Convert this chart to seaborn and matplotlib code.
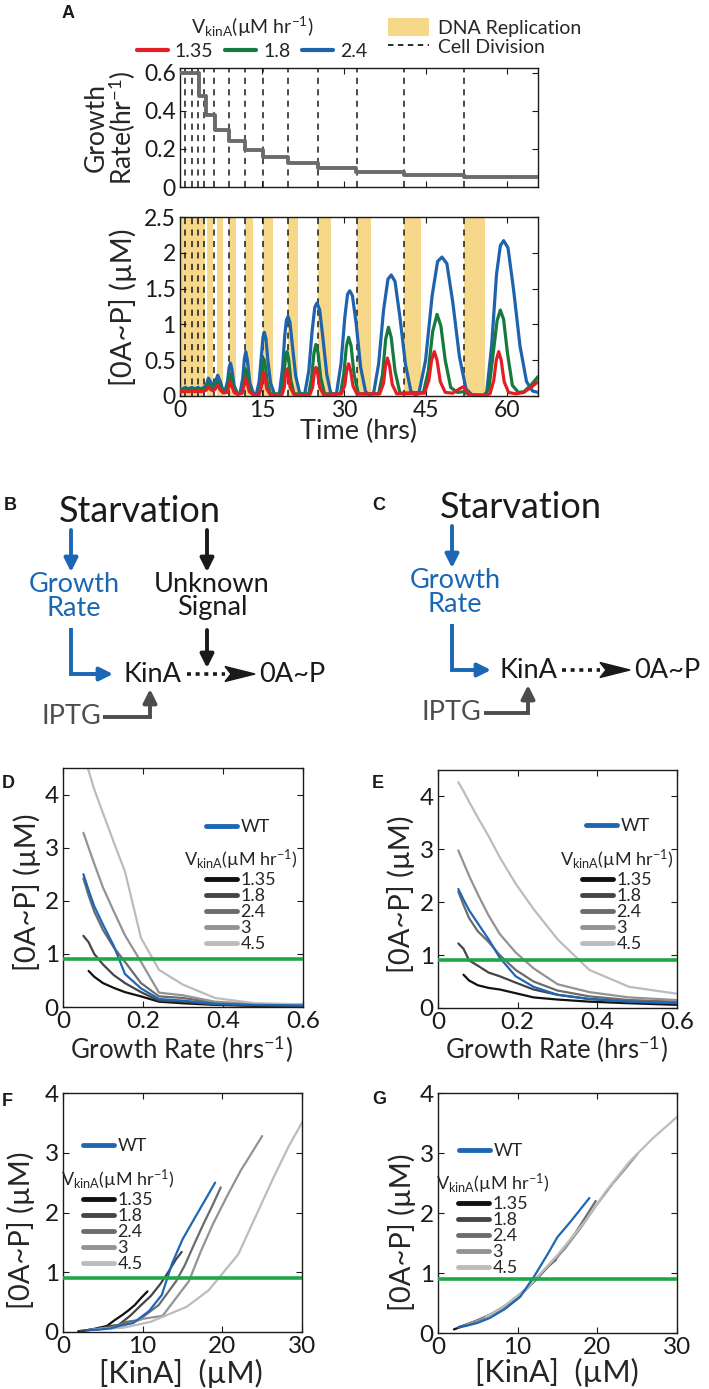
import numpy as np
import matplotlib
matplotlib.use("Agg")
import matplotlib.pyplot as plt
import seaborn as sns
from matplotlib.lines import Line2D
from matplotlib.patches import Patch, Polygon

sns.set_theme(style="ticks")
plt.rcParams["font.family"] = ["Lato", "DejaVu Sans"]
plt.rcParams["mathtext.fontset"] = "custom"
plt.rcParams["mathtext.rm"] = "Lato"
plt.rcParams["mathtext.it"] = "Lato:italic"
plt.rcParams["mathtext.bf"] = "Lato:bold"

# ---------------- panel A data ----------------
gr_t = [0, 3.4, 4.7, 6.4, 9.0, 11.9, 15.3, 19.7, 25.3, 32.3, 41.0, 52.0, 65.6]
gr_v = [0.6, 0.48, 0.38, 0.30, 0.24, 0.195, 0.155, 0.127, 0.10, 0.078, 0.064, 0.051, 0.051]
div_t = [1.0, 2.2, 3.3, 4.4, 6.2, 9.0, 11.9, 15.3, 19.7, 25.3, 32.4, 41.0, 52.0]
rep_start = [0.0, 5.0, 6.7, 9.0, 12.0, 15.3, 19.7, 25.3, 32.4, 41.0, 52.0]
rep_end = [4.6, 6.0, 7.9, 10.3, 13.4, 17.0, 21.7, 27.7, 35.0, 44.2, 55.8]

blue_t = [0, 0.5, 1.0, 1.5, 2.2, 2.7, 3.3, 3.8, 4.4, 4.8, 5.2, 5.6, 6.1, 6.5, 6.9, 7.4, 7.9,
          8.2, 8.7, 9.0, 9.25, 9.5, 9.9, 10.5,
          11.0, 11.5, 11.8, 12.05, 12.35, 12.8, 13.5,
          14.0, 14.5, 14.9, 15.2, 15.45, 15.75, 16.1, 16.6, 17.3, 18.0,
          18.3, 18.8, 19.2, 19.5, 19.8, 20.15, 20.6, 21.2, 21.9, 22.6,
          22.9, 23.6, 24.2, 24.7, 25.1, 25.6, 26.2, 26.9, 27.6, 28.3,
          28.7, 29.5, 30.2, 30.7, 31.1, 31.6, 32.3, 33.1, 34.0, 34.8,
          35.5, 36.4, 37.3, 38.1, 38.7, 39.4, 40.3, 41.3, 42.3, 43.2,
          43.8, 45.0, 46.2, 47.2, 48.0, 48.9, 50.0, 51.2, 52.4, 53.6, 55.6,
          56.2, 57.1, 58.0, 58.7, 59.3, 60.1, 61.1, 62.3, 63.5, 64.6, 65.6]
blue_y = [0.1, 0.1, 0.12, 0.1, 0.12, 0.1, 0.12, 0.1, 0.12, 0.15, 0.25, 0.2, 0.14, 0.2, 0.29, 0.2, 0.07,
          0.06, 0.2, 0.4, 0.46, 0.38, 0.15, 0.04,
          0.04, 0.25, 0.52, 0.62, 0.5, 0.18, 0.03,
          0.03, 0.2, 0.55, 0.82, 0.89, 0.8, 0.5, 0.18, 0.03, 0.01,
          0.08, 0.4, 0.85, 1.06, 1.11, 1.03, 0.7, 0.28, 0.05, 0.01,
          0.05, 0.35, 0.9, 1.24, 1.30, 1.2, 0.8, 0.3, 0.05, 0.01,
          0.05, 0.45, 1.1, 1.42, 1.47, 1.4, 1.0, 0.4, 0.06, 0.01,
          0.05, 0.45, 1.2, 1.63, 1.69, 1.6, 1.1, 0.45, 0.07, 0.01,
          0.05, 0.5, 1.4, 1.88, 1.94, 1.85, 1.3, 0.55, 0.1, 0.01, 0.01,
          0.05, 0.7, 1.7, 2.1, 2.17, 2.07, 1.5, 0.7, 0.2, 0.07, 0.05]

green_t = [0, 0.5, 1.0, 1.5, 2.2, 2.7, 3.3, 3.8, 4.4, 4.8, 5.2, 5.6, 6.1, 6.5, 6.9, 7.4, 8.0,
           8.5, 8.9, 9.2, 9.5, 9.9, 10.6,
           11.3, 11.7, 12.0, 12.3, 12.7, 13.4,
           14.4, 14.8, 15.1, 15.35, 15.65, 16.0, 16.6,
           18.6, 19.0, 19.35, 19.6, 19.9, 20.3, 20.9,
           23.6, 24.1, 24.55, 24.9, 25.3, 25.8, 26.5,
           29.4, 30.0, 30.5, 30.9, 31.35, 31.9, 32.7,
           36.4, 37.1, 37.7, 38.2, 38.7, 39.4, 40.3,
           44.6, 45.5, 46.3, 47.1, 47.8, 48.6, 49.6, 50.8, 52.0, 53.0,
           55.8, 56.6, 57.4, 58.1, 58.7, 59.3, 60.0, 60.9, 62.0, 63.0, 64.3, 65.6]
green_y = [0.09, 0.08, 0.1, 0.08, 0.1, 0.08, 0.1, 0.08, 0.1, 0.11, 0.18, 0.13, 0.1, 0.13, 0.2, 0.12, 0.05,
           0.06, 0.18, 0.31, 0.24, 0.08, 0.03,
           0.04, 0.2, 0.37, 0.28, 0.09, 0.02,
           0.02, 0.15, 0.4, 0.52, 0.42, 0.18, 0.03,
           0.03, 0.25, 0.55, 0.62, 0.52, 0.22, 0.03,
           0.03, 0.25, 0.6, 0.72, 0.6, 0.25, 0.03,
           0.03, 0.3, 0.7, 0.82, 0.7, 0.3, 0.03,
           0.03, 0.3, 0.8, 0.96, 0.82, 0.35, 0.04,
           0.05, 0.35, 0.9, 1.14, 0.98, 0.5, 0.12, 0.05, 0.06, 0.02,
           0.01, 0.1, 0.6, 1.05, 1.2, 1.07, 0.6, 0.15, 0.05, 0.06, 0.15, 0.27]

red_t = [0, 0.5, 1.0, 1.5, 2.2, 2.7, 3.3, 3.8, 4.4, 4.8, 5.2, 5.6, 6.1, 6.5, 6.9, 7.4, 8.0,
         8.6, 8.95, 9.2, 9.5, 9.9, 10.6,
         11.4, 11.75, 12.0, 12.3, 12.7, 13.4,
         14.5, 14.9, 15.1, 15.3, 15.55, 15.9, 16.5,
         18.7, 19.1, 19.35, 19.6, 19.85, 20.2, 20.9,
         23.8, 24.3, 24.6, 24.9, 25.2, 25.6, 26.3,
         29.6, 30.2, 30.55, 30.9, 31.25, 31.7, 32.4,
         36.6, 37.3, 37.65, 38.0, 38.4, 38.9, 39.7,
         44.8, 45.6, 46.1, 46.6, 47.1, 47.7, 48.6,
         50.0, 51.2, 51.9, 52.6, 53.6, 55.8,
         56.8, 57.5, 57.95, 58.4, 58.85, 59.4, 60.2, 61.5, 63.0, 64.3, 65.6]
red_y = [0.06, 0.06, 0.07, 0.06, 0.07, 0.06, 0.07, 0.06, 0.07, 0.08, 0.13, 0.09, 0.07, 0.1, 0.15, 0.08, 0.04,
         0.05, 0.13, 0.2, 0.14, 0.05, 0.02,
         0.04, 0.15, 0.25, 0.18, 0.06, 0.02,
         0.02, 0.12, 0.27, 0.33, 0.26, 0.1, 0.02,
         0.02, 0.12, 0.3, 0.37, 0.3, 0.12, 0.02,
         0.02, 0.12, 0.32, 0.4, 0.32, 0.12, 0.02,
         0.03, 0.15, 0.36, 0.45, 0.36, 0.14, 0.03,
         0.03, 0.18, 0.42, 0.53, 0.42, 0.16, 0.03,
         0.04, 0.22, 0.5, 0.62, 0.5, 0.2, 0.05,
         0.04, 0.1, 0.13, 0.05, 0.01, 0.01,
         0.03, 0.22, 0.5, 0.62, 0.5, 0.2, 0.05, 0.03, 0.05, 0.12, 0.2]

# ---------------- panels D-G data ----------------
vkina_labels = ["1.35", "1.8", "2.4", "3", "4.5"]
gr_pts = [0.051, 0.064, 0.078, 0.10, 0.127, 0.155, 0.195, 0.24, 0.30, 0.38, 0.48, 0.6]

d_wt = [2.5, 2.2, 1.9, 1.55, 1.15, 0.62, 0.35, 0.15, 0.12, 0.06, 0.04, 0.03]
d_135 = [0.68, 0.57, 0.45, 0.36, 0.28, 0.2, 0.1, 0.07, 0.04, 0.02, 0.01]
d_18 = [1.34, 1.22, 1.0, 0.8, 0.6, 0.45, 0.28, 0.12, 0.1, 0.05, 0.03, 0.02]
d_24 = [2.42, 2.1, 1.8, 1.45, 1.12, 0.85, 0.45, 0.2, 0.17, 0.08, 0.05, 0.04]
d_3 = [3.28, 3.0, 2.7, 2.25, 1.8, 1.35, 0.85, 0.27, 0.22, 0.1, 0.06, 0.05]
d_45 = [4.75, 4.45, 4.1, 3.65, 3.1, 2.55, 1.3, 0.7, 0.42, 0.17, 0.07, 0.05]

e_wt = [2.25, 2.05, 1.85, 1.6, 1.3, 0.95, 0.6, 0.4, 0.25, 0.17, 0.12, 0.09]
e_135 = [0.63, 0.52, 0.43, 0.38, 0.35, 0.28, 0.2, 0.16, 0.12, 0.09, 0.06]
e_18 = [1.22, 1.12, 0.9, 0.8, 0.67, 0.6, 0.48, 0.35, 0.25, 0.17, 0.12, 0.1]
e_24 = [2.2, 1.95, 1.7, 1.45, 1.25, 1.0, 0.72, 0.5, 0.33, 0.22, 0.15, 0.12]
e_3 = [2.98, 2.75, 2.5, 2.15, 1.75, 1.4, 1.05, 0.75, 0.45, 0.3, 0.2, 0.15]
e_45 = [4.27, 4.1, 3.9, 3.6, 3.25, 2.85, 2.35, 1.87, 1.3, 0.72, 0.4, 0.27]

f_wt = [19.1, 17.8, 16.5, 15.0, 13.7, 12.4, 10.8, 8.8, 7.5, 6.0, 4.5, 3.0]
f_135 = [10.6, 9.8, 9.0, 8.2, 7.4, 6.5, 5.5, 4.5, 3.5, 2.6, 1.9]
f_18 = [14.9, 14.2, 13.2, 12.2, 11.0, 9.8, 8.5, 7.0, 6.0, 4.5, 3.2, 2.2]
f_24 = [19.8, 18.7, 17.6, 16.4, 15.3, 14.2, 12.0, 9.5, 8.0, 6.2, 4.6, 3.2]
f_3 = [25.0, 23.7, 22.3, 20.5, 18.8, 17.3, 15.8, 12.5, 10.0, 7.5, 5.5, 3.8]
f_45 = [34.0, 33.0, 32.0, 30.6, 28.3, 26.3, 22.0, 18.3, 15.5, 11.0, 7.5, 4.5]

g_wt = [19.0, 17.8, 16.6, 15.0, 13.7, 12.1, 10.3, 8.4, 6.5, 5.0, 3.6, 2.5]
g_135 = [10.3, 9.2, 8.2, 7.6, 7.2, 6.2, 4.8, 4.0, 3.2, 2.6, 2.0]
g_18 = [14.8, 13.9, 12.4, 11.6, 10.6, 10.0, 8.8, 7.2, 5.7, 4.2, 3.2, 2.6]
g_24 = [19.8, 18.6, 17.4, 16.1, 14.9, 13.0, 11.0, 9.0, 6.9, 5.1, 3.8, 3.1]
g_3 = [25.0, 23.6, 22.0, 20.0, 17.9, 15.9, 13.3, 11.2, 8.4, 6.5, 4.8, 3.6]
g_45 = [35.0, 33.7, 32.3, 30.0, 27.0, 24.0, 21.0, 18.5, 15.0, 11.0, 7.8, 6.0]

threshold = 0.9

# colours
RED, GREEN, BLUE = "#e31e26", "#177a3d", "#1f63ad"
YELLOW = "#f6d88a"
WT_BLUE = "#1f66b5"
THR_GREEN = "#1fa64a"
GRAYS = ["#111111", "#454545", "#6c6c6c", "#939393", "#bcbcbc"]
DIAG_BLUE = "#1b67b3"
IPTG_GRAY = "#4d4d4d"

W, H = 709, 1389
fig = plt.figure(figsize=(W / 100, H / 100), dpi=100)
fig.patch.set_facecolor("white")


def box(l, t, r, b):
    return [l / W, 1 - b / H, (r - l) / W, (b - t) / H]


def T(x, y, s, **kw):
    return fig.text(x / W, 1 - y / H, s, **kw)


def matlab(ax, fs):
    ax.set_facecolor("white")
    for s in ax.spines.values():
        s.set_visible(True)
        s.set_linewidth(1.0)
        s.set_color("k")
    ax.tick_params(direction="in", top=True, right=True, length=4, width=0.8,
                   labelsize=fs, colors="k", pad=3)
    ax.set_xlabel("")
    ax.set_ylabel("")


vtitle = r"V$_{\mathregular{kinA}}$(µM hr$^{\mathregular{-1}}$)"

# ---------------- panel A: growth rate ----------------
ax_g = fig.add_axes(box(180, 68, 538, 187))
for t in div_t:
    ax_g.axvline(t, color="k", ls=(0, (4, 3.5)), lw=1.1, zorder=1)
sns.lineplot(x=gr_t, y=gr_v, ax=ax_g, drawstyle="steps-post", color="#6b6b6b", lw=2.8, zorder=3)
ax_g.set_xlim(0, 65.6)
ax_g.set_ylim(0, 0.625)
ax_g.set_xticks([0, 15, 30, 45, 60])
ax_g.set_xticklabels([])
ax_g.set_yticks([0, 0.2, 0.4, 0.6])
ax_g.set_yticklabels(["0", "0.2", "0.4", "0.6"])
matlab(ax_g, 16.5)

# ---------------- panel A: 0A~P ----------------
ax_a = fig.add_axes(box(180, 217, 538, 396))
for s, e in zip(rep_start, rep_end):
    ax_a.axvspan(s, e, color=YELLOW, lw=0, zorder=0)
for t in div_t:
    ax_a.axvline(t, color="k", ls=(0, (4, 3.5)), lw=1.1, zorder=1)
sns.lineplot(x=blue_t, y=blue_y, ax=ax_a, color=BLUE, lw=2.3, sort=False, estimator=None, zorder=3)
sns.lineplot(x=green_t, y=green_y, ax=ax_a, color=GREEN, lw=2.3, sort=False, estimator=None, zorder=4)
sns.lineplot(x=red_t, y=red_y, ax=ax_a, color=RED, lw=2.3, sort=False, estimator=None, zorder=5)
ax_a.set_xlim(0, 65.6)
ax_a.set_ylim(0, 2.5)
ax_a.set_xticks([0, 15, 30, 45, 60])
ax_a.set_yticks([0, 0.5, 1, 1.5, 2, 2.5])
ax_a.set_yticklabels(["0", "0.5", "1", "1.5", "2", "2.5"])
matlab(ax_a, 16.5)

T(111, 128, "Growth\nRate(hr$^{\\mathregular{-1}}$)", rotation=90, ha="center", va="center",
  fontsize=19, linespacing=0.95)
T(123, 307, "[0A~P] (µM)", rotation=90, ha="center", va="center", fontsize=21)
T(359, 431, "Time (hrs)", ha="center", va="center", fontsize=19.5)

h1 = [Line2D([], [], color=c, lw=3) for c in (RED, GREEN, BLUE)]
fig.legend(h1, ["1.35", "1.8", "2.4"], ncol=3, title=vtitle, loc="center",
           bbox_to_anchor=(252 / W, 1 - 37 / H), frameon=False, fontsize=14, title_fontsize=14,
           handlelength=1.6, handletextpad=0.35, columnspacing=0.6, borderpad=0, labelspacing=0.2)
h2 = [Patch(facecolor=YELLOW, edgecolor="none"), Line2D([], [], color="k", ls=(0, (3, 2.5)), lw=1.3)]
fig.legend(h2, ["DNA Replication", "Cell Division"], loc="upper left",
           bbox_to_anchor=(378 / W, 1 - 8 / H), frameon=False, fontsize=14,
           handlelength=2.1, handleheight=1.1, handletextpad=0.5, labelspacing=0.0, borderpad=0)


# ---------------- panels D-G ----------------
def curve_panel(rect, xs_list, ys_list, wt_x, wt_y, xlim, ylim, xticks, xtl, yticks):
    ax = fig.add_axes(rect)
    for xs, ys, c in zip(xs_list, ys_list, GRAYS):
        sns.lineplot(x=xs, y=ys, ax=ax, color=c, lw=1.6, sort=False, estimator=None, zorder=2)
    sns.lineplot(x=wt_x, y=wt_y, ax=ax, color=WT_BLUE, lw=1.6, sort=False, estimator=None, zorder=3)
    ax.axhline(threshold, color=THR_GREEN, lw=2.6, zorder=4)
    ax.set_xlim(*xlim)
    ax.set_ylim(*ylim)
    ax.set_xticks(xticks)
    ax.set_xticklabels(xtl)
    ax.set_yticks(yticks)
    ax.set_yticklabels([str(v) for v in yticks])
    matlab(ax, 17.5)
    return ax


def panel_legends(ax, wt_c, v_c):
    wt = ax.legend([Line2D([], [], color=WT_BLUE, lw=3.5)], ["WT"], loc="center",
                   bbox_to_anchor=(wt_c[0] / W, 1 - wt_c[1] / H), bbox_transform=fig.transFigure,
                   frameon=False, fontsize=13, handlelength=1.7, handletextpad=0.2, borderpad=0)
    ax.add_artist(wt)
    hs = [Line2D([], [], color=c, lw=3.5) for c in GRAYS]
    ax.legend(hs, vkina_labels, title=vtitle, loc="center",
              bbox_to_anchor=(v_c[0] / W, 1 - v_c[1] / H), bbox_transform=fig.transFigure,
              frameon=False, fontsize=13, title_fontsize=13, handlelength=1.7,
              handletextpad=0.2, borderpad=0, labelspacing=0.0)


gx_d = [gr_pts[1:], gr_pts, gr_pts, gr_pts, gr_pts]
ax_D = curve_panel(box(63, 768, 303, 1007), gx_d, [d_135, d_18, d_24, d_3, d_45], gr_pts, d_wt,
                   (0, 0.6), (0, 4.5), [0, 0.2, 0.4, 0.6], ["0", "0.2", "0.4", "0.6"], [0, 1, 2, 3, 4])
ax_E = curve_panel(box(438, 770, 677, 1008), gx_d, [e_135, e_18, e_24, e_3, e_45], gr_pts, e_wt,
                   (0, 0.6), (0, 4.5), [0, 0.2, 0.4, 0.6], ["0", "0.2", "0.4", "0.6"], [0, 1, 2, 3, 4])
ax_F = curve_panel(box(63, 1093, 302, 1332), [f_135, f_18, f_24, f_3, f_45],
                   [d_135, d_18, d_24, d_3, d_45], f_wt, d_wt,
                   (0, 30), (0, 4), [0, 10, 20, 30], ["0", "10", "20", "30"], [0, 1, 2, 3, 4])
ax_G = curve_panel(box(438, 1093, 677, 1333), [g_135, g_18, g_24, g_3, g_45],
                   [e_135, e_18, e_24, e_3, e_45], g_wt, e_wt,
                   (0, 30), (0, 4), [0, 10, 20, 30], ["0", "10", "20", "30"], [0, 1, 2, 3, 4])

panel_legends(ax_D, (238, 827), (241, 900))
panel_legends(ax_E, (618, 826), (617, 900))
panel_legends(ax_F, (115, 1146), (118, 1220))
panel_legends(ax_G, (491, 1151), (493, 1224))

ylab = "[0A~P] (µM)"
T(27, 892, ylab, rotation=90, ha="center", va="center", fontsize=21)
T(401, 894, ylab, rotation=90, ha="center", va="center", fontsize=21)
T(21, 1230, ylab, rotation=90, ha="center", va="center", fontsize=21)
T(402, 1232, ylab, rotation=90, ha="center", va="center", fontsize=21)
xl_gr = "Growth Rate (hrs$^{\\mathregular{-1}}$)"
T(181, 1049, xl_gr, ha="center", va="center", fontsize=18.5)
T(556, 1049, xl_gr, ha="center", va="center", fontsize=18.5)
T(181, 1373, "[KinA]  (µM)", ha="center", va="center", fontsize=22)
T(557, 1372, "[KinA]  (µM)", ha="center", va="center", fontsize=22)

# ---------------- diagrams B, C and panel letters ----------------
ax_d = fig.add_axes([0, 0, 1, 1])
ax_d.set_xlim(0, W)
ax_d.set_ylim(H, 0)
ax_d.axis("off")


def arrow(p0, p1, color, lw=2.8, ms=20):
    ax_d.annotate("", xy=p1, xytext=p0,
                  arrowprops=dict(arrowstyle="-|>", color=color, lw=lw, mutation_scale=ms,
                                  shrinkA=0, shrinkB=0))


def diagram(gx, dy, unknown, squeeze):
    # gx: x of the blue Growth Rate column; squeeze shortens the KinA row for panel C
    ax_d.text(gx - 12, 512 + dy, "Starvation", fontsize=26, ha="left", va="center", color="k")
    arrow((gx, 530 + dy), (gx, 572 + dy), DIAG_BLUE)
    ax_d.text(gx + 3, 584 + dy, "Growth", fontsize=19.5, ha="center", va="center", color=DIAG_BLUE)
    ax_d.text(gx + 3, 608 + dy, "Rate", fontsize=19.5, ha="center", va="center", color=DIAG_BLUE)
    ky = 674 + dy
    ax_d.plot([gx, gx, gx + 25], [628 + dy, ky, ky], color=DIAG_BLUE, lw=2.8,
              solid_joinstyle="miter", solid_capstyle="butt")
    arrow((gx + 20, ky), (gx + 42 - squeeze // 2, ky), DIAG_BLUE)
    ax_d.text(gx + 53 - squeeze, ky + 1, "KinA", fontsize=19.5, ha="left", va="center", color="k")
    d0 = gx + 116 - squeeze
    ax_d.plot([d0, d0 + 38], [ky, ky], color="k", lw=2.6, ls=(0, (1.1, 1.3)))
    ax_d.add_patch(Polygon([(d0 + 38, ky - 7.5), (d0 + 68, ky), (d0 + 38, ky + 7.5), (d0 + 44, ky)],
                           closed=True, color="k"))
    ax_d.text(d0 + 72, ky + 1, "0A~P", fontsize=19.5, ha="left", va="center", color="k")
    ax_d.text(gx - 30, 717 + dy, "IPTG", fontsize=19.5, ha="left", va="center", color=IPTG_GRAY)
    ix = gx + 79 - squeeze // 2
    ax_d.plot([gx + 32, ix, ix], [717 + dy, 717 + dy, 700 + dy], color=IPTG_GRAY, lw=2.8,
              solid_joinstyle="miter", solid_capstyle="butt")
    arrow((ix, 705 + dy), (ix, 689 + dy), IPTG_GRAY)
    if unknown:
        ux = 207
        arrow((ux, 530 + dy), (ux, 572 + dy), "k")
        ax_d.text(ux + 5, 584 + dy, "Unknown", fontsize=19.5, ha="center", va="center", color="k")
        ax_d.text(ux + 5, 608 + dy, "Signal", fontsize=19.5, ha="center", va="center", color="k")
        arrow((ux, 630 + dy), (ux, 668 + dy), "k")


diagram(71, 0, True, 0)
diagram(452, -4, False, 6)

for lab, x, y in [("A", 62, 13), ("B", 4, 505), ("C", 372, 505), ("D", 2, 783),
                  ("E", 372, 783), ("F", 2, 1102), ("G", 372, 1099)]:
    ax_d.text(x, y, lab, fontsize=13, fontweight="bold", family="Liberation Sans",
              ha="left", va="center", color="k")

fig.savefig("out.png", dpi=100, facecolor="white")
